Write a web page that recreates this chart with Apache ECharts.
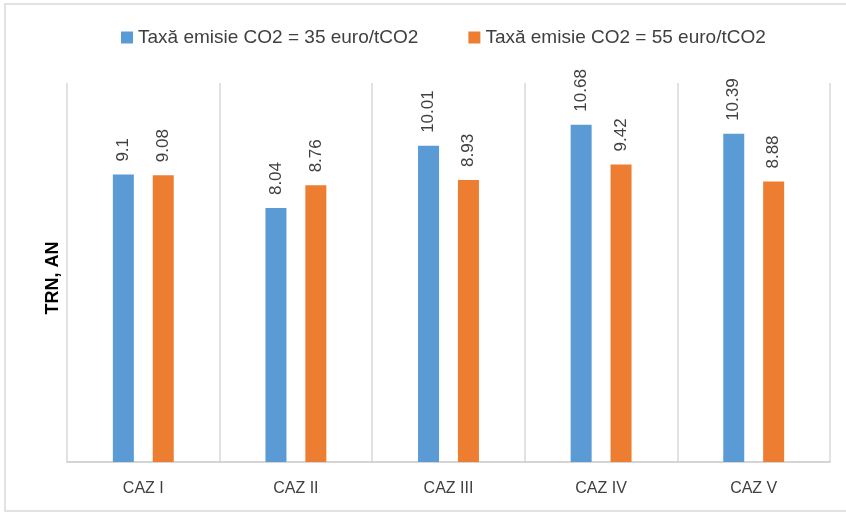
<!DOCTYPE html>
<html><head><meta charset="utf-8">
<script src="https://cdn.jsdelivr.net/npm/echarts@6/dist/echarts.min.js"></script>
<style>html,body{margin:0;padding:0;background:#fff}#c{width:846px;height:513px}</style>
</head><body><div id="c"></div>
<script>
const categories = ['CAZ I', 'CAZ II', 'CAZ III', 'CAZ IV', 'CAZ V'];
const seriesNames = ['Taxă emisie CO2 = 35 euro/tCO2', 'Taxă emisie CO2 = 55 euro/tCO2'];
const tax35 = [9.1, 8.04, 10.01, 10.68, 10.39];
const tax55 = [9.08, 8.76, 8.93, 9.42, 8.88];
const yAxisName = 'TRN, AN';

const font = '"Liberation Sans", Arial, sans-serif';
const chart = echarts.init(document.getElementById('c'), null, {renderer: 'canvas'});
const label = {show: true, position: 'top', rotate: 90, align: 'left', verticalAlign: 'middle', distance: 13,
  color: '#404040', fontSize: 17, fontFamily: font};
chart.setOption({
  animation: false,
  backgroundColor: '#fff',
  graphic: [{type: 'rect', shape: {x: 5, y: 4, width: 846, height: 507}, style: {fill: 'none', stroke: '#d9d9d9', lineWidth: 1.5}, silent: true}],
  legend: {top: 23, left: 116, itemWidth: 12, itemHeight: 12, itemGap: 50, icon: 'rect',
    textStyle: {fontSize: 19, color: '#404040', fontFamily: font}, data: seriesNames},
  grid: {left: 67, right: 16, top: 83, bottom: 51},
  xAxis: {type: 'category', data: categories,
    axisLine: {lineStyle: {color: '#c8c8c8', width: 1.5}}, axisTick: {show: false},
    axisLabel: {margin: 19, fontSize: 16, color: '#404040', fontFamily: font},
    splitLine: {show: true, lineStyle: {color: '#d9d9d9', width: 1.5}}},
  yAxis: {type: 'value', min: 0, max: 12, show: true, name: yAxisName, nameLocation: 'middle', nameGap: 5,
    nameTextStyle: {fontSize: 18, fontWeight: 'bold', color: '#000', fontFamily: font, padding: [0, 11, 0, 0]},
    axisLine: {show: false}, axisTick: {show: false}, axisLabel: {show: false}, splitLine: {show: false}},
  series: [
    {name: seriesNames[0], type: 'bar', data: tax35, barWidth: 21, barGap: '90%', itemStyle: {color: '#5b9bd5'}, label: label},
    {name: seriesNames[1], type: 'bar', data: tax55, barWidth: 21, barGap: '90%', itemStyle: {color: '#ed7d31'}, label: label}
  ]
});
</script></body></html>
